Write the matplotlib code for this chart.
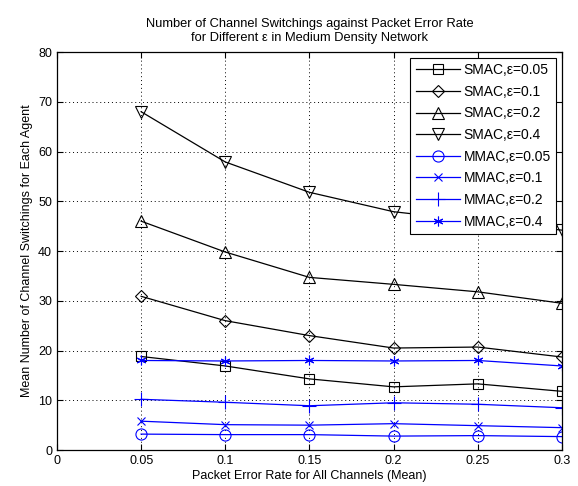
import matplotlib
matplotlib.use("Agg")
import matplotlib.pyplot as plt

plt.rcParams['font.family'] = ['Liberation Sans', 'DejaVu Sans']

per = [0.05, 0.1, 0.15, 0.2, 0.25, 0.3]
smac_005 = [18.8, 16.9, 14.3, 12.7, 13.3, 11.8]
smac_01 = [30.9, 26.0, 23.0, 20.5, 20.7, 18.7]
smac_02 = [46.0, 39.8, 34.7, 33.3, 31.8, 29.5]
smac_04 = [68.0, 57.9, 51.8, 47.9, 46.0, 44.2]
mmac_005 = [3.2, 3.1, 3.1, 2.8, 2.9, 2.7]
mmac_01 = [5.8, 5.1, 5.0, 5.3, 4.9, 4.5]
mmac_02 = [10.2, 9.6, 8.9, 9.5, 9.2, 8.5]
mmac_04 = [18.0, 17.9, 18.0, 17.9, 18.0, 16.9]
labels = ['SMAC,ε=0.05', 'SMAC,ε=0.1', 'SMAC,ε=0.2', 'SMAC,ε=0.4',
          'MMAC,ε=0.05', 'MMAC,ε=0.1', 'MMAC,ε=0.2', 'MMAC,ε=0.4']
xticks = [0, 0.05, 0.1, 0.15, 0.2, 0.25, 0.3]
xticklabels = ['0', '0.05', '0.1', '0.15', '0.2', '0.25', '0.3']
yticks = [0, 10, 20, 30, 40, 50, 60, 70, 80]

fig = plt.figure(figsize=(5.78, 4.86), dpi=100)
ax = fig.add_axes([0.0986, 0.074, 0.8734, 0.819])

series = [smac_005, smac_01, smac_02, smac_04, mmac_005, mmac_01, mmac_02, mmac_04]
markers = ['s', 'D', '^', 'v', 'o', 'x', '+', (6, 2, 0)]
sizes = [7, 6, 8, 8, 8, 6, 10, 7]
colors = ['black'] * 4 + ['#0000ff'] * 4
for ys, m, s, c, lab in zip(series, markers, sizes, colors, labels):
    fill = 'none' if m in ('s', 'D', '^', 'v', 'o') else c
    ax.plot(per, ys, color=c, marker=m, markersize=s, markerfacecolor=fill,
            markeredgecolor=c, markeredgewidth=0.8, linewidth=0.9, label=lab)

ax.set_xlim(0, 0.3)
ax.set_ylim(0, 80)
ax.set_xticks(xticks)
ax.set_xticklabels(xticklabels)
ax.set_yticks(yticks)
ax.grid(True, linestyle=(0, (1, 3)), color='black', linewidth=0.7)
ax.tick_params(direction='in', top=True, right=True, labelsize=9, length=4, width=0.8)
for sp in ax.spines.values():
    sp.set_linewidth(0.9)

ax.set_xlabel('Packet Error Rate for All Channels (Mean)', fontsize=9, labelpad=2)
ax.set_ylabel('Mean Number of Channel Switchings for Each Agent', fontsize=9, labelpad=4)
ax.set_title('Number of Channel Switchings against Packet Error Rate\nfor Different ε in Medium Density Network',
             fontsize=9.3, pad=8)

leg = ax.legend(loc='upper right', fontsize=10, fancybox=False, framealpha=1,
                edgecolor='black', handlelength=3.2, borderaxespad=0.4,
                labelspacing=0.55, handletextpad=0.25, borderpad=0.4)
leg.get_frame().set_linewidth(0.8)

fig.savefig('out.png', dpi=100)
